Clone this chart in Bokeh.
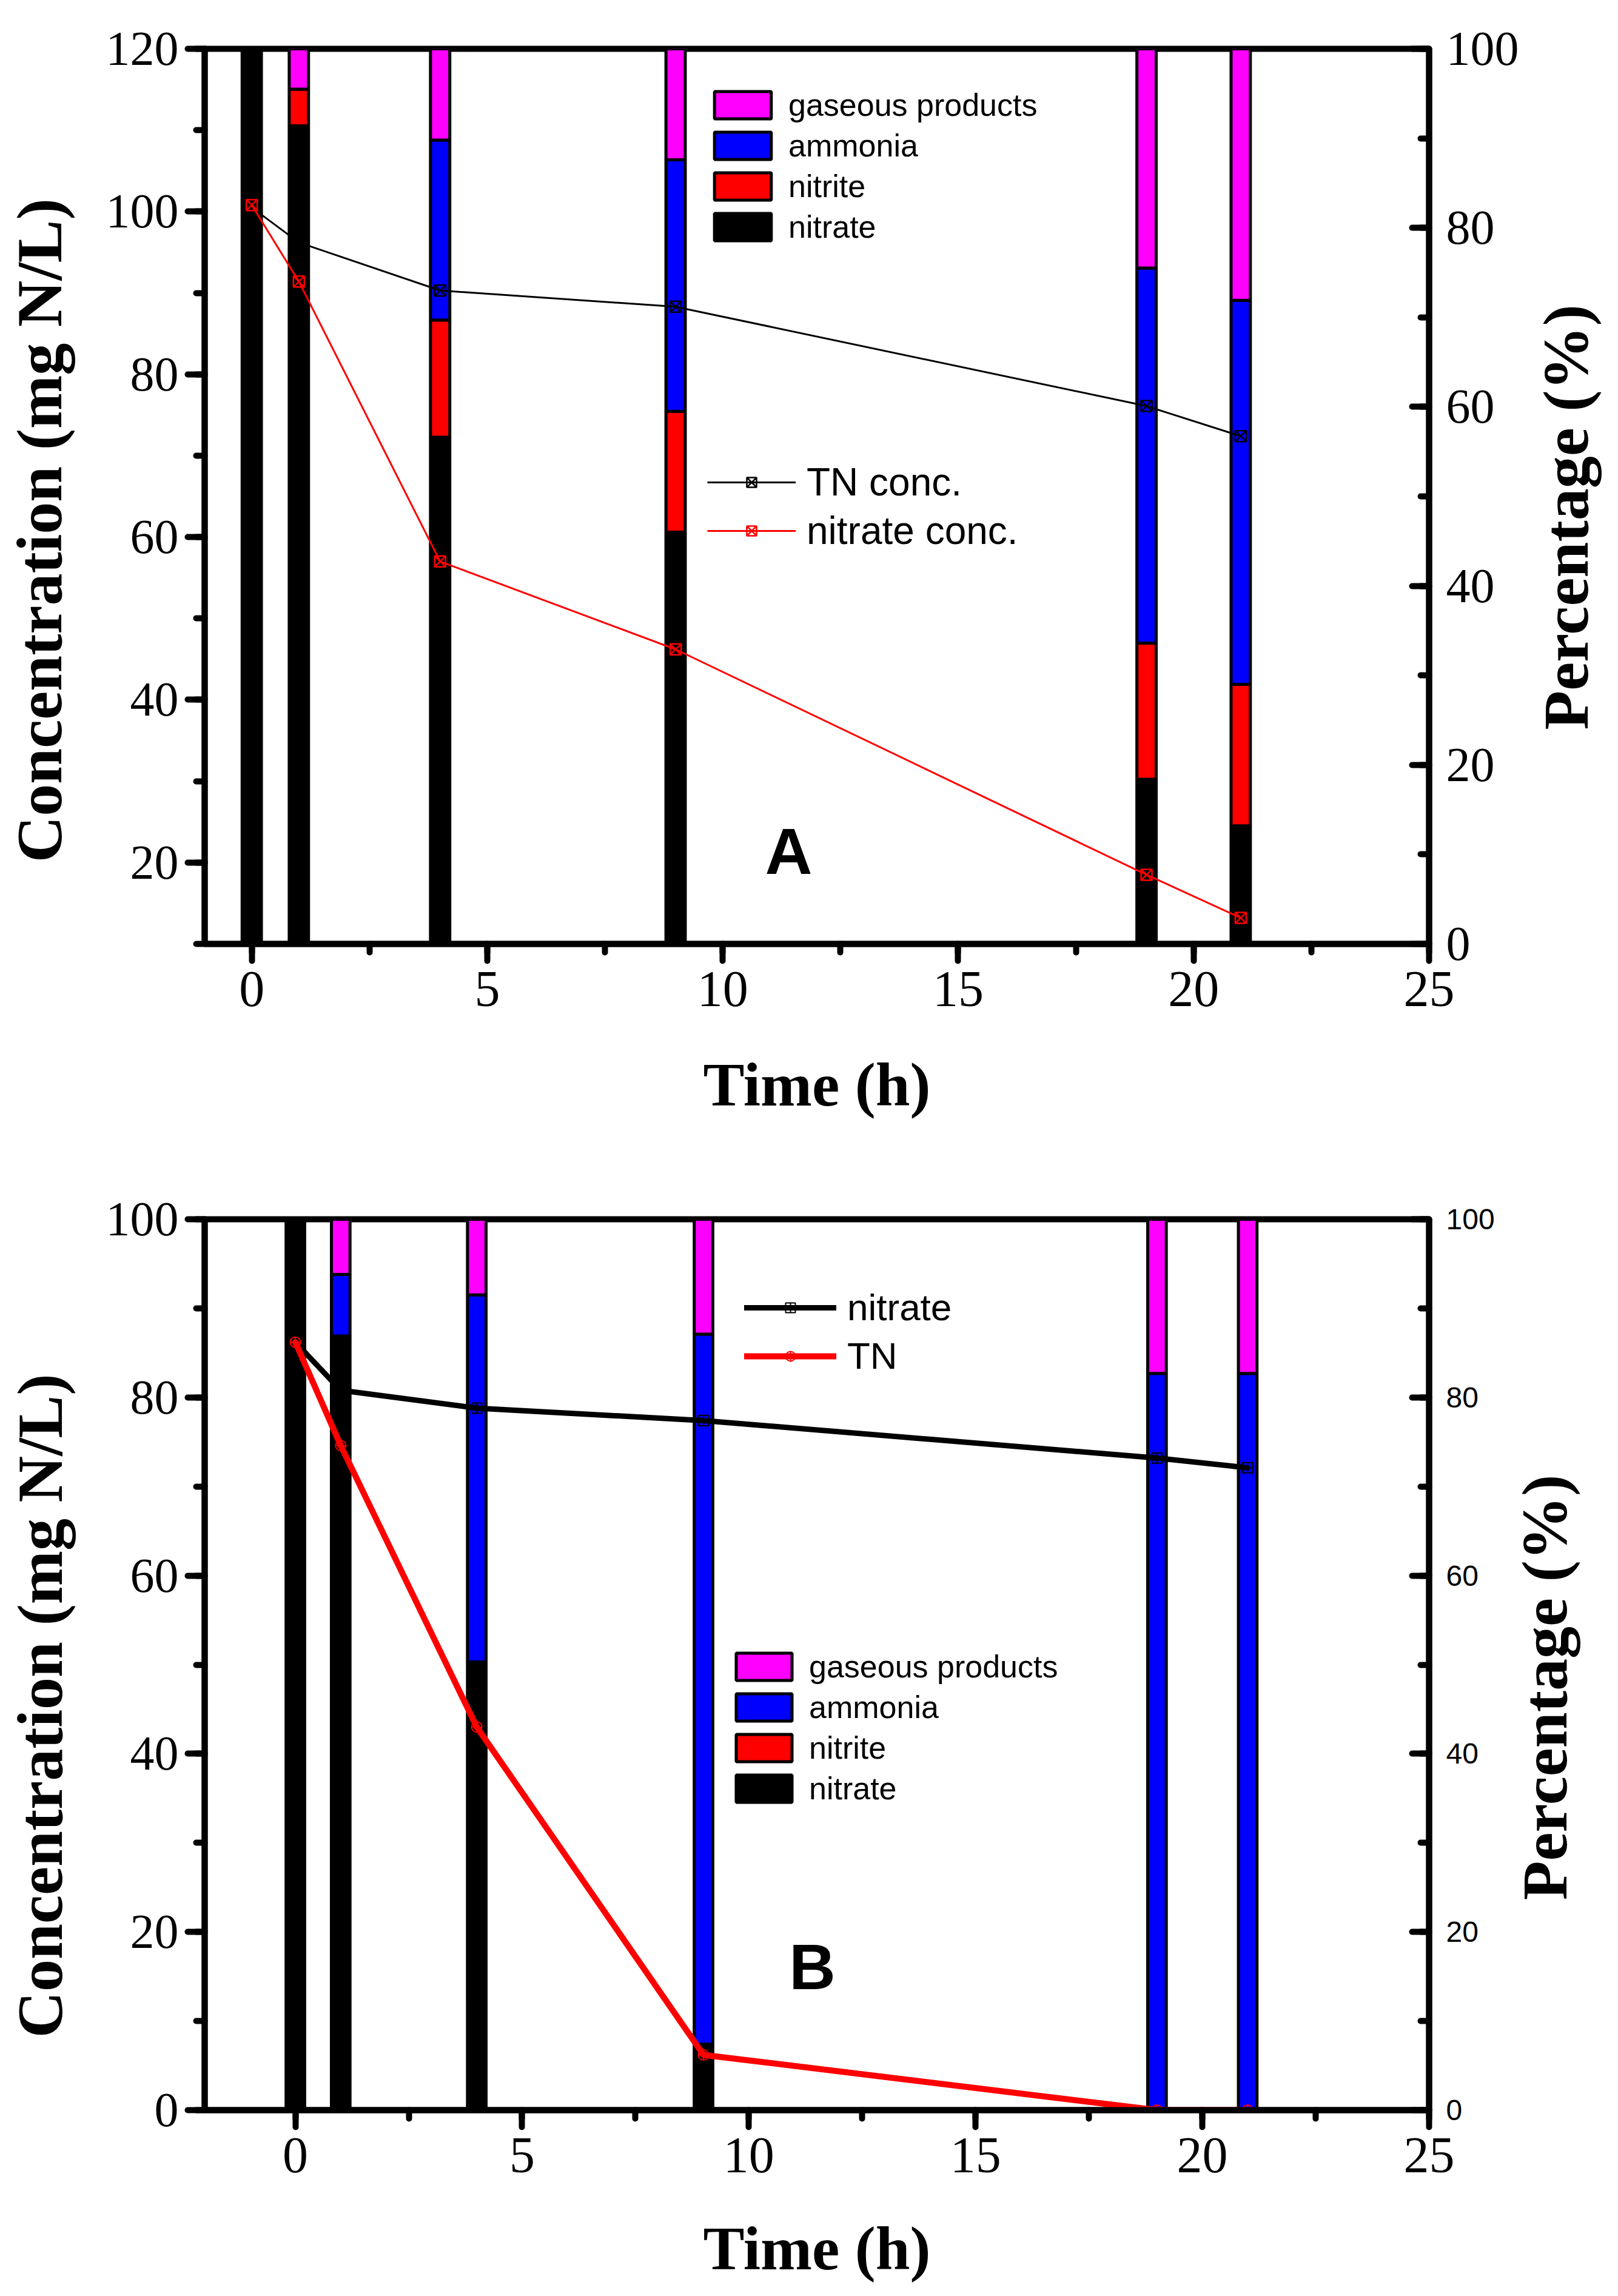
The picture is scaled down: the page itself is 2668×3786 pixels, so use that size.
import math
from bokeh.plotting import figure
from bokeh.models import Range1d, LinearAxis, SingleIntervalTicker, Legend, LegendItem, Label
from bokeh.layouts import column, row
from bokeh.embed import file_html
from bokeh.resources import INLINE

# ---------------- data ----------------
time_h = [0, 1, 4, 9, 19, 21]

# Panel A : concentrations (mg N/L)
a_tn_conc = [100.5, 96.2, 90.3, 88.3, 76.1, 72.4]
a_nitrate_conc = [100.8, 91.4, 57.0, 46.2, 18.5, 13.2]
# Panel A : composition (%)
a_nitrate_pct = [100.0, 91.4, 56.6, 46.0, 18.4, 13.2]
a_nitrite_pct = [0.0, 4.1, 13.1, 13.5, 15.2, 15.8]
a_ammonia_pct = [0.0, 0.0, 20.1, 28.1, 41.9, 42.9]
a_gaseous_pct = [0.0, 4.5, 10.2, 12.4, 24.5, 28.1]

# Panel B : concentrations (mg N/L)
b_nitrate_conc = [86.2, 80.8, 78.8, 77.4, 73.2, 72.1]
b_tn_conc = [86.2, 74.6, 43.0, 6.2, 0.0, 0.0]
# Panel B : composition (%)
b_nitrate_pct = [100.0, 86.9, 50.3, 7.4, 0.0, 0.0]
b_nitrite_pct = [0.0, 0.0, 0.0, 0.0, 0.0, 0.0]
b_ammonia_pct = [0.0, 6.9, 41.2, 79.7, 82.7, 82.7]
b_gaseous_pct = [0.0, 6.2, 8.5, 12.9, 17.3, 17.3]

component_names = ["nitrate", "nitrite", "ammonia", "gaseous products"]
component_colors = ["#000000", "#FF0000", "#0000FF", "#FF00FF"]

SERIF = "Liberation Serif"
SANS = "Liberation Sans"
W = 2652
BAR_W = 0.41
LEFT_STRIP = 148
LEFT_BORDER = 189
FRAME_W = 2019


def style_axis(ax, side, tick_size, label_size, tick_font=SERIF, label_standoff=40, tick_standoff=10):
    ax.axis_line_width = 10
    ax.axis_line_color = "black"
    ax.major_tick_line_width = 10
    ax.minor_tick_line_width = 10
    ax.major_tick_line_color = "black"
    ax.minor_tick_line_color = "black"
    ax.major_tick_line_cap = "round"
    ax.minor_tick_line_cap = "round"
    if side == "right":
        ax.major_tick_in = 28
        ax.major_tick_out = 0
        ax.minor_tick_in = 14
        ax.minor_tick_out = 0
    else:
        ax.major_tick_in = 0
        ax.major_tick_out = 28
        ax.minor_tick_in = 0
        ax.minor_tick_out = 14
    ax.major_label_text_font = tick_font
    ax.major_label_text_font_size = tick_size
    ax.major_label_text_color = "black"
    ax.major_label_standoff = tick_standoff
    ax.axis_label_text_font = SERIF
    ax.axis_label_text_font_style = "bold"
    ax.axis_label_text_font_size = label_size
    ax.axis_label_text_color = "black"
    ax.axis_label_standoff = label_standoff


def make_panel(width, x_start, y_start, y_end, height, top_border, bottom_border,
               pct_lists, right_tick_font, right_tick_size, x_label_standoff):
    right_border = width - LEFT_BORDER - FRAME_W
    p = figure(width=width, height=height,
               x_range=Range1d(x_start, 25), y_range=Range1d(y_start, y_end),
               output_backend="svg", toolbar_location=None,
               min_border_left=LEFT_BORDER, min_border_right=right_border,
               min_border_top=top_border, min_border_bottom=bottom_border,
               background_fill_color="white", border_fill_color="white")
    p.extra_y_ranges = {"pct": Range1d(0, 100)}
    p.xgrid.visible = False
    p.ygrid.visible = False
    p.outline_line_color = "black"
    p.outline_line_width = 10

    xa = p.xaxis[0]
    xa.ticker = SingleIntervalTicker(interval=5, num_minor_ticks=2)
    xa.axis_label = "Time (h)"
    style_axis(xa, "below", "84px", "102px", label_standoff=x_label_standoff, tick_standoff=18)

    ya = p.yaxis[0]
    ya.ticker = SingleIntervalTicker(interval=20, num_minor_ticks=2)
    style_axis(ya, "left", "80px", "106px", tick_standoff=15)

    ra = LinearAxis(y_range_name="pct",
                    ticker=SingleIntervalTicker(interval=20, num_minor_ticks=2))
    style_axis(ra, "right", right_tick_size, "106px", tick_font=right_tick_font,
               tick_standoff=28)
    p.add_layout(ra, "right")

    # stacked percentage bars
    renderers = {}
    bottom = [0.0] * len(time_h)
    for name, color, vals in zip(component_names, component_colors, pct_lists):
        top = [b + v for b, v in zip(bottom, vals)]
        r = p.vbar(x=time_h, width=BAR_W, bottom=bottom, top=top, y_range_name="pct",
                   fill_color=color, line_color="black", line_width=5)
        renderers[name] = r
        bottom = top
    return p, renderers


def title_strip(text, width, height, cx, cy):
    """Narrow strip holding a vertical axis title, reading bottom-to-top."""
    f = figure(width=width, height=height, x_range=Range1d(0, width), y_range=Range1d(0, height),
               x_axis_type=None, y_axis_type=None, output_backend="svg", toolbar_location=None,
               min_border=0, outline_line_color=None,
               background_fill_color="white", border_fill_color="white")
    f.xgrid.visible = False
    f.ygrid.visible = False
    f.add_layout(Label(x=cx, y=cy, text=text, angle=math.pi / 2,
                       text_align="center", text_baseline="middle",
                       text_font=SERIF, text_font_style="bold", text_font_size="106px",
                       text_color="black"))
    return f


def bar_legend(p, renderers, loc, glyph_w):
    items = [LegendItem(label=n, renderers=[renderers[n]]) for n in reversed(component_names)]
    lg = Legend(items=items, location=loc, orientation="vertical",
                glyph_width=glyph_w, glyph_height=56, label_height=56,
                spacing=7, padding=0, margin=0, label_standoff=17,
                label_text_font=SANS, label_text_font_size="52px", label_text_color="black",
                border_line_alpha=0, background_fill_alpha=0)
    p.add_layout(lg)


# ---------------- Panel A ----------------
LAB_A = 130
HA = 1890
pA, rA = make_panel(W - LAB_A - LEFT_STRIP, -1, 10, 120, HA, 80, 334,
                    [a_nitrate_pct, a_nitrite_pct, a_ammonia_pct, a_gaseous_pct],
                    SERIF, "80px", 70)
lA1 = pA.line(time_h, a_tn_conc, line_color="black", line_width=3)
sA1 = pA.scatter(time_h, a_tn_conc, marker="square_x", size=18, line_color="black",
                 fill_alpha=0, line_width=2.5)
lA2 = pA.line(time_h, a_nitrate_conc, line_color="#FF0000", line_width=3)
sA2 = pA.scatter(time_h, a_nitrate_conc, marker="square_x", size=18, line_color="#FF0000",
                 fill_alpha=0, line_width=2.5)
bar_legend(pA, rA, (829, 1152), 117)
legA = Legend(items=[LegendItem(label="TN conc.", renderers=[lA1, sA1]),
                     LegendItem(label="nitrate conc.", renderers=[lA2, sA2])],
              location=(829, 644), glyph_width=146, glyph_height=40,
              spacing=6, padding=0, margin=0, label_standoff=18,
              label_text_font=SANS, label_text_font_size="64px", label_text_color="black",
              border_line_alpha=0, background_fill_alpha=0)
pA.add_layout(legA)
pA.add_layout(Label(x=11.4, y=21.4, text="A", text_font=SANS, text_font_style="bold",
                    text_font_size="108px", text_align="center", text_baseline="middle",
                    text_color="black"))
lA_title = title_strip("Concentration (mg N/L)", LEFT_STRIP, HA, 65, 873)
rA_title = title_strip("Percentage (%)", LAB_A, HA, 60, 901)

# ---------------- Panel B ----------------
LAB_B = 170
HB = 1880
pB, rB = make_panel(W - LAB_B - LEFT_STRIP, -2, 0, 100, HB, 120, 291,
                    [b_nitrate_pct, b_nitrite_pct, b_ammonia_pct, b_gaseous_pct],
                    SANS, "48px", 66)
lB1 = pB.line(time_h, b_nitrate_conc, line_color="black", line_width=9,
              line_cap="round", line_join="round")
sB1 = pB.scatter(time_h, b_nitrate_conc, marker="square_cross", size=17, line_color="black",
                 fill_alpha=0, line_width=2)
lB2 = pB.line(time_h, b_tn_conc, line_color="#FF0000", line_width=10,
              line_cap="round", line_join="round")
sB2 = pB.scatter(time_h, b_tn_conc, marker="circle_cross", size=17, line_color="#FF0000",
                 fill_alpha=0, line_width=2)
bar_legend(pB, rB, (865, 500), 115)
legB = Legend(items=[LegendItem(label="nitrate", renderers=[lB1, sB1]),
                     LegendItem(label="TN", renderers=[lB2, sB2])],
              location=(890, 1208), glyph_width=152, glyph_height=40,
              spacing=9, padding=0, margin=0, label_standoff=18,
              label_text_font=SANS, label_text_font_size="62px", label_text_color="black",
              border_line_alpha=0, background_fill_alpha=0)
pB.add_layout(legB)
pB.add_layout(Label(x=11.4, y=16.1, text="B", text_font=SANS, text_font_style="bold",
                    text_font_size="106px", text_align="center", text_baseline="middle",
                    text_color="black"))
lB_title = title_strip("Concentration (mg N/L)", LEFT_STRIP, HB, 66, 853)
rB_title = title_strip("Percentage (%)", LAB_B, HB, 65, 892)

layout = column(row(lA_title, pA, rA_title), row(lB_title, pB, rB_title))
open("out.html", "w").write(file_html(layout, INLINE))
